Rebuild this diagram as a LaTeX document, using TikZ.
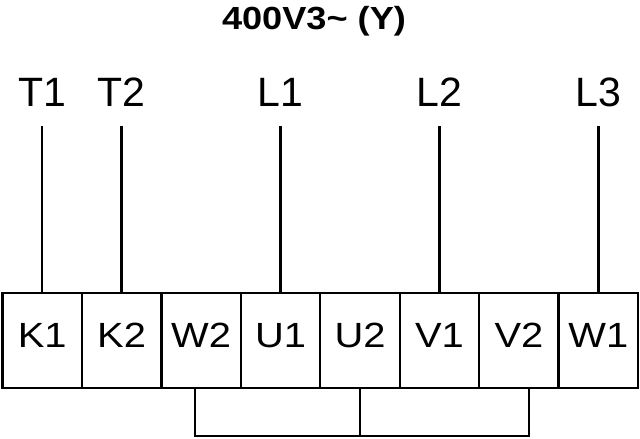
\documentclass[tikz,border=0pt]{standalone}
\usepackage{fontspec}
\setmainfont{Liberation Sans}
\newfontfamily\clampfont[FakeStretch=1.14]{Liberation Sans}
\newfontfamily\titlefont[FakeStretch=1.13]{Liberation Sans Bold}
\usetikzlibrary{positioning}

\begin{document}
\begin{tikzpicture}[x=1pt,y=1pt,line width=2.4pt,node distance=79.45pt,
  clamp node/.style={draw,minimum width=79.45pt,minimum height=95.5pt,inner sep=0pt,outer sep=0pt,text depth=10pt,font=\clampfont\fontsize{35}{35}\selectfont},
  line label/.style={inner sep=0pt,outer ysep=20pt,text height=29pt,text depth=0pt,font=\fontsize{41}{41}\selectfont}]

            \useasboundingbox (0,0) rectangle (640,-439);

            \node[anchor=base,font=\titlefont\fontsize{32}{32}\selectfont] (title) at (314,-29.5) {400V3\textasciitilde{} (Y)};

            \node[clamp node] (K1) at (42.2,-340.5) {K1};
            \node[clamp node] (K2) [right of = K1] {K2};
            \node[clamp node] (W2) [right of = K2] {W2};
            \node[clamp node] (U1) [right of = W2] {U1};
            \node[clamp node] (U2) [right of = U1] {U2};
            \node[clamp node] (V1) [right of = U2] {V1};
            \node[clamp node] (V2) [right of = V1] {V2};
            \node[clamp node] (W1) [right of = V2] {W1};

            \node[line label,node distance=249pt] (T1) [above of = K1] {T1};
            \node[line label,node distance=249pt] (T2) [above of = K2] {T2};
            \node[line label,node distance=249pt] (L1) [above of = U1] {L1};
            \node[line label,node distance=249pt] (L2) [above of = V1] {L2};
            \node[line label,node distance=249pt] (L3) [above of = W1] {L3};

            \path[draw]
                (T1) -- (K1)
                (T2) -- (K2)
                (L1) -- (U1)
                (L2) -- (V1)
                (L3) -- (W1)
            ;

            % star bridge below the clamps
            \draw ([xshift=-6pt]W2.south) -- ++(0,-48) -| (U2.south);
            \draw (U2.south) ++(0,-48) -| ([xshift=10pt]V2.south);
        \end{tikzpicture}
\end{document}
